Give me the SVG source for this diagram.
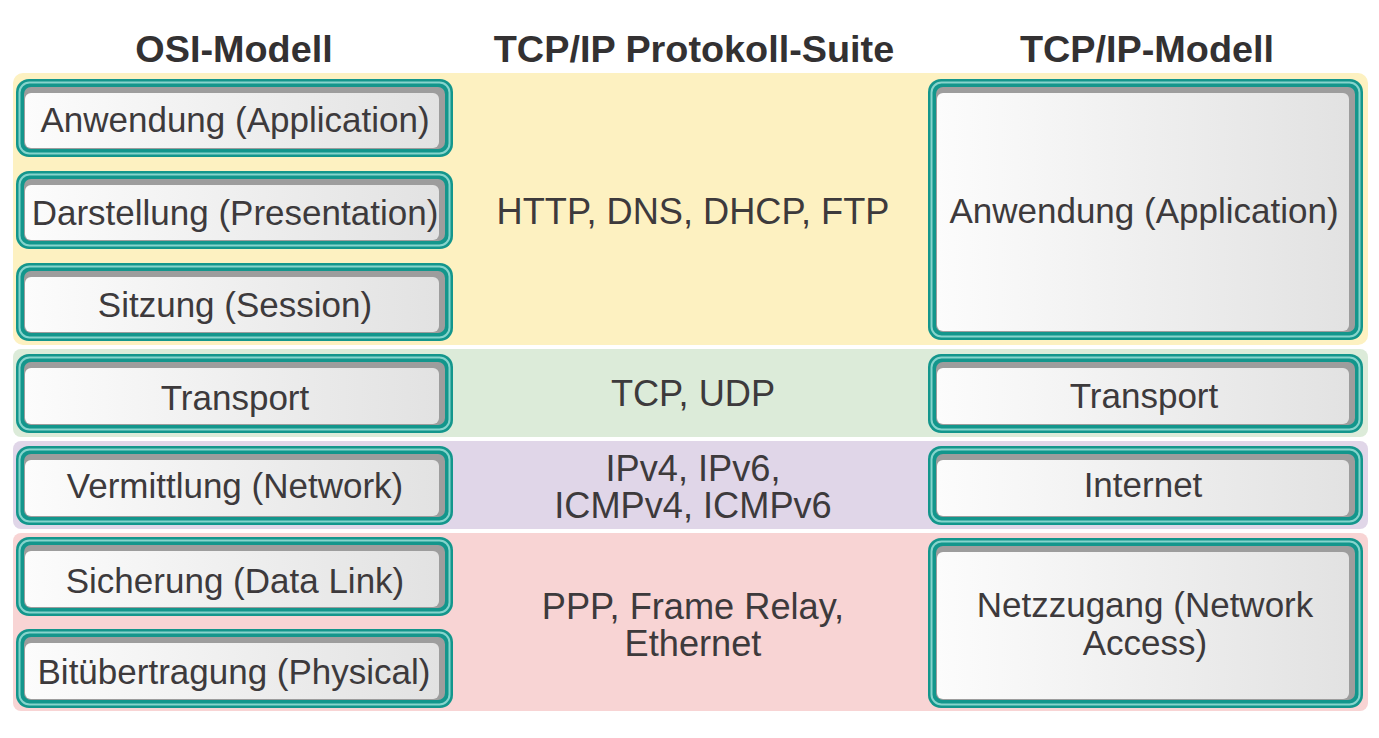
<svg xmlns="http://www.w3.org/2000/svg" width="1379" height="738" viewBox="0 0 1379 738">
<defs>
<linearGradient id="fillg" x1="0" y1="0" x2="1" y2="0">
<stop offset="0" stop-color="#fcfcfc"/>
<stop offset="1" stop-color="#e2e2e2"/>
</linearGradient>
</defs>
<style>
.hdr{font-family:"Liberation Sans",Arial,sans-serif;font-weight:bold;font-size:37.8px;fill:#333132;text-anchor:middle}
.t{font-family:"Liberation Sans",Arial,sans-serif;font-size:35px;fill:#3d3a3c;text-anchor:middle}
.m{font-size:36.2px}
.outer{fill:#13968c}
.stripe{fill:none;stroke:#86d4cc;stroke-width:2}
.gray{fill:#9d9d9d}
.inner{fill:url(#fillg)}
</style>
<rect width="1379" height="738" fill="#ffffff"/>
<g id="bands">
<rect x="13" y="73" width="1355" height="272" rx="10" fill="#fdf1c1"/>
<rect x="13" y="349" width="1355" height="88" rx="8" fill="#dcebd9"/>
<rect x="13" y="441" width="1355" height="88" rx="8" fill="#e0d6e8"/>
<rect x="13" y="533" width="1355" height="178" rx="8" fill="#f8d4d4"/>
</g>
<g id="headers">
<text class="hdr" x="234" y="62">OSI-Modell</text>
<text class="hdr" x="694" y="62">TCP/IP Protokoll-Suite</text>
<text class="hdr" x="1147" y="62">TCP/IP-Modell</text>
</g>
<g id="protocols">
<text class="t m" x="693" y="224">HTTP, DNS, DHCP, FTP</text>
<text class="t m" x="693" y="406">TCP, UDP</text>
<text class="t m" x="693" y="481">IPv4, IPv6,</text>
<text class="t m" x="693" y="518">ICMPv4, ICMPv6</text>
<text class="t m" x="693" y="619">PPP, Frame Relay,</text>
<text class="t m" x="693" y="656">Ethernet</text>
</g>
<g id="osi-application">
<rect class="outer" x="16" y="79" width="437" height="78" rx="13"/>
<rect class="stripe" x="19.5" y="82.5" width="430" height="71" rx="10"/>
<rect class="gray" x="24" y="87" width="421" height="62" rx="7"/>
<rect class="inner" x="25" y="93" width="414" height="55" rx="6"/>
<text class="t" x="235" y="132">Anwendung (Application)</text>
</g>
<g id="osi-presentation">
<rect class="outer" x="16" y="171" width="437" height="78" rx="13"/>
<rect class="stripe" x="19.5" y="174.5" width="430" height="71" rx="10"/>
<rect class="gray" x="24" y="179" width="421" height="62" rx="7"/>
<rect class="inner" x="25" y="185" width="414" height="55" rx="6"/>
<text class="t" x="235" y="225">Darstellung (Presentation)</text>
</g>
<g id="osi-session">
<rect class="outer" x="16" y="263" width="437" height="78" rx="13"/>
<rect class="stripe" x="19.5" y="266.5" width="430" height="71" rx="10"/>
<rect class="gray" x="24" y="271" width="421" height="62" rx="7"/>
<rect class="inner" x="25" y="277" width="414" height="55" rx="6"/>
<text class="t" x="235" y="317">Sitzung (Session)</text>
</g>
<g id="osi-transport">
<rect class="outer" x="16" y="354" width="437" height="79" rx="13"/>
<rect class="stripe" x="19.5" y="357.5" width="430" height="72" rx="10"/>
<rect class="gray" x="24" y="362" width="421" height="63" rx="7"/>
<rect class="inner" x="25" y="368" width="414" height="56" rx="6"/>
<text class="t" x="235" y="410">Transport</text>
</g>
<g id="osi-network">
<rect class="outer" x="16" y="446" width="437" height="79" rx="13"/>
<rect class="stripe" x="19.5" y="449.5" width="430" height="72" rx="10"/>
<rect class="gray" x="24" y="454" width="421" height="63" rx="7"/>
<rect class="inner" x="25" y="460" width="414" height="56" rx="6"/>
<text class="t" x="235" y="498">Vermittlung (Network)</text>
</g>
<g id="osi-datalink">
<rect class="outer" x="16" y="537" width="437" height="79" rx="13"/>
<rect class="stripe" x="19.5" y="540.5" width="430" height="72" rx="10"/>
<rect class="gray" x="24" y="545" width="421" height="63" rx="7"/>
<rect class="inner" x="25" y="551" width="414" height="56" rx="6"/>
<text class="t" x="235" y="593">Sicherung (Data Link)</text>
</g>
<g id="osi-physical">
<rect class="outer" x="16" y="629" width="437" height="79" rx="13"/>
<rect class="stripe" x="19.5" y="632.5" width="430" height="72" rx="10"/>
<rect class="gray" x="24" y="637" width="421" height="63" rx="7"/>
<rect class="inner" x="25" y="643" width="414" height="56" rx="6"/>
<text class="t" x="234" y="684">Bitübertragung (Physical)</text>
</g>
<g id="tcpip-application">
<rect class="outer" x="928" y="79" width="435" height="261" rx="13"/>
<rect class="stripe" x="931.5" y="82.5" width="428" height="254" rx="10"/>
<rect class="gray" x="936" y="87" width="419" height="245" rx="7"/>
<rect class="inner" x="937" y="93" width="412" height="238" rx="6"/>
<text class="t" x="1144" y="223">Anwendung (Application)</text>
</g>
<g id="tcpip-transport">
<rect class="outer" x="928" y="354" width="435" height="79" rx="13"/>
<rect class="stripe" x="931.5" y="357.5" width="428" height="72" rx="10"/>
<rect class="gray" x="936" y="362" width="419" height="63" rx="7"/>
<rect class="inner" x="937" y="368" width="412" height="56" rx="6"/>
<text class="t" x="1144" y="408">Transport</text>
</g>
<g id="tcpip-internet">
<rect class="outer" x="928" y="446" width="435" height="79" rx="13"/>
<rect class="stripe" x="931.5" y="449.5" width="428" height="72" rx="10"/>
<rect class="gray" x="936" y="454" width="419" height="63" rx="7"/>
<rect class="inner" x="937" y="460" width="412" height="56" rx="6"/>
<text class="t" x="1143" y="497">Internet</text>
</g>
<g id="tcpip-networkaccess">
<rect class="outer" x="928" y="538" width="435" height="170" rx="13"/>
<rect class="stripe" x="931.5" y="541.5" width="428" height="163" rx="10"/>
<rect class="gray" x="936" y="546" width="419" height="154" rx="7"/>
<rect class="inner" x="937" y="552" width="412" height="147" rx="6"/>
<text class="t" x="1145" y="617">Netzzugang (Network</text>
<text class="t" x="1145" y="655">Access)</text>
</g>
<g id="connectors"/>
</svg>
